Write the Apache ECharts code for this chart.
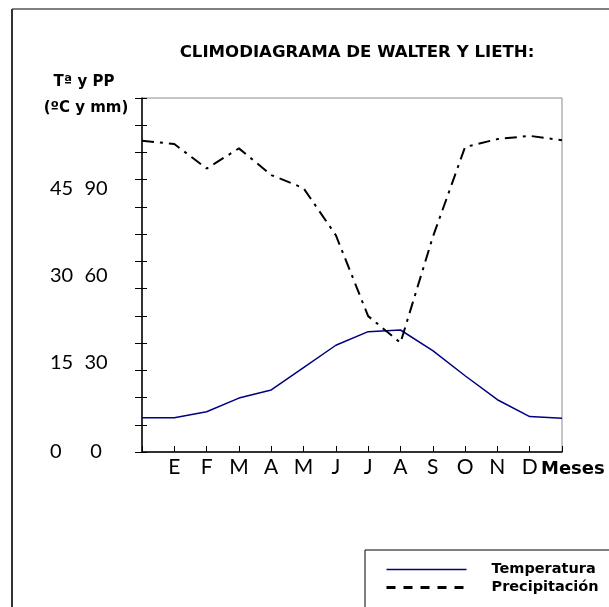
<!DOCTYPE html>
<html lang="es">
<head>
<meta charset="UTF-8">
<title>Climodiagrama</title>
<script src="https://cdn.jsdelivr.net/npm/echarts@6/dist/echarts.min.js"></script>
<style>
  html, body { margin: 0; padding: 0; background: #fff; }
  #chart { width: 609px; height: 607px; }
</style>
</head>
<body>
<div id="chart"></div>
<script>
// meses (con un punto extra al principio y al final, como en el original)
const months = ['', 'E', 'F', 'M', 'A', 'M', 'J', 'J', 'A', 'S', 'O', 'N', 'D', ''];
// temperatura media (ºC)
const temperatura = [6.3, 6.3, 7.4, 9.9, 11.4, 15.5, 19.6, 22.1, 22.4, 18.6, 14.0, 9.6, 6.5, 6.2];
// precipitación (mm)
const precipitacion = [114.3, 113.1, 104.1, 111.5, 101.7, 96.9, 79.6, 49.9, 40.1, 78.9, 112.0, 114.9, 116.1, 114.5];
// etiquetas del eje: ºC -> mm (escala 1:2)
const tempTicks = [0, 15, 30, 45];
// desplazamiento vertical de cada etiqueta (px), como en el original
const labelShift = { 0: 0, 15: 8, 30: 13, 45: 18 };

const numFont = { fontFamily: 'Lato', fontSize: 20, color: '#000' };
const boldFont = 'DejaVu Sans';

const rich = {
  a: Object.assign({ width: 34, align: 'left' }, numFont),
  b: Object.assign({ width: 24, align: 'center' }, numFont)
};
tempTicks.forEach(t => {
  if (labelShift[t]) rich['s' + t] = { height: labelShift[t] * 2, lineHeight: labelShift[t] * 2 };
});

const chart = echarts.init(document.getElementById('chart'));
chart.setOption({
  animation: false,
  backgroundColor: '#fff',
  grid: {
    left: 142, right: 47, top: 98, bottom: 155,
    show: true, borderColor: '#8c8c8c', borderWidth: 1
  },
  xAxis: {
    type: 'category',
    data: months,
    boundaryGap: false,
    axisLine: { lineStyle: { color: '#000', width: 1.5 } },
    axisTick: { inside: true, length: 6, alignWithLabel: true, lineStyle: { color: '#000' } },
    axisLabel: { margin: 5, interval: 0, fontFamily: 'Lato', fontSize: 21, color: '#000' },
    splitLine: { show: false }
  },
  yAxis: [
    {
      type: 'value', min: 0, max: 65, interval: 5,
      axisLine: { show: true, lineStyle: { color: '#000', width: 1.5 } },
      axisTick: { show: true, length: 7, lineStyle: { color: '#000' } },
      splitLine: { show: false },
      axisLabel: {
        margin: 34,
        formatter: v => {
          if (tempTicks.indexOf(v) < 0) return '';
          let s = '{a|' + v + '}{b|' + (v * 2) + '}';
          if (labelShift[v]) s += '\n{s' + v + '|}';
          return s;
        },
        rich: rich
      }
    },
    {
      type: 'value', min: 0, max: 130, interval: 10, show: false
    },
    {
      type: 'value', min: 0, max: 65, interval: 5, position: 'left',
      axisLine: { show: false },
      axisTick: { show: true, inside: true, length: 5, lineStyle: { color: '#000' } },
      axisLabel: { show: false },
      splitLine: { show: false }
    }
  ],
  legend: {
    orient: 'vertical',
    left: 380, top: 556,
    itemWidth: 80, itemHeight: 10, itemGap: 1,
    itemStyle: { opacity: 0 },
    textStyle: { fontFamily: boldFont, fontWeight: 'bold', fontSize: 14.5, color: '#000', lineHeight: 17, padding: [0, 0, 0, 20] },
    data: [
      { name: 'Temperatura', lineStyle: { color: '#000080', width: 1.5, type: 'solid', opacity: 1 } },
      { name: 'Precipitación', lineStyle: { color: '#000', width: 3, type: [9, 8], opacity: 1 } }
    ]
  },
  series: [
    {
      name: 'Temperatura', type: 'line', yAxisIndex: 0,
      data: temperatura, symbol: 'none', showSymbol: false,
      lineStyle: { color: '#000080', width: 1.5 },
      itemStyle: { color: '#000080' }
    },
    {
      name: 'Precipitación', type: 'line', yAxisIndex: 1,
      data: precipitacion, symbol: 'none', showSymbol: false,
      lineStyle: { color: '#000', width: 2, type: [12, 6, 3, 6] },
      itemStyle: { color: '#000' }
    }
  ],
  graphic: [
    { type: 'line', shape: { x1: 12, y1: 9, x2: 609, y2: 9 }, style: { stroke: '#808080', lineWidth: 2 } },
    { type: 'line', shape: { x1: 12, y1: 9, x2: 12, y2: 607 }, style: { stroke: '#333', lineWidth: 2 } },
    { type: 'rect', shape: { x: 365, y: 550, width: 300, height: 100 }, style: { stroke: '#000', fill: null, lineWidth: 1 } },
    {
      type: 'text', x: 357, y: 53,
      style: { text: 'CLIMODIAGRAMA DE WALTER Y LIETH:', fontFamily: boldFont, fontWeight: 'bold', fontSize: 16.6, fill: '#000', align: 'center', verticalAlign: 'middle' }
    },
    {
      type: 'text', x: 84, y: 82,
      style: { text: 'Tª y PP', fontFamily: boldFont, fontWeight: 'bold', fontSize: 15, fill: '#000', align: 'center', verticalAlign: 'middle' }
    },
    {
      type: 'text', x: 86, y: 108,
      style: { text: '(ºC y mm)', fontFamily: boldFont, fontWeight: 'bold', fontSize: 15, fill: '#000', align: 'center', verticalAlign: 'middle' }
    },
    {
      type: 'text', x: 541, y: 469,
      style: { text: 'Meses', fontFamily: boldFont, fontWeight: 'bold', fontSize: 18, fill: '#000', align: 'left', verticalAlign: 'middle' }
    }
  ]
});
</script>
</body>
</html>
